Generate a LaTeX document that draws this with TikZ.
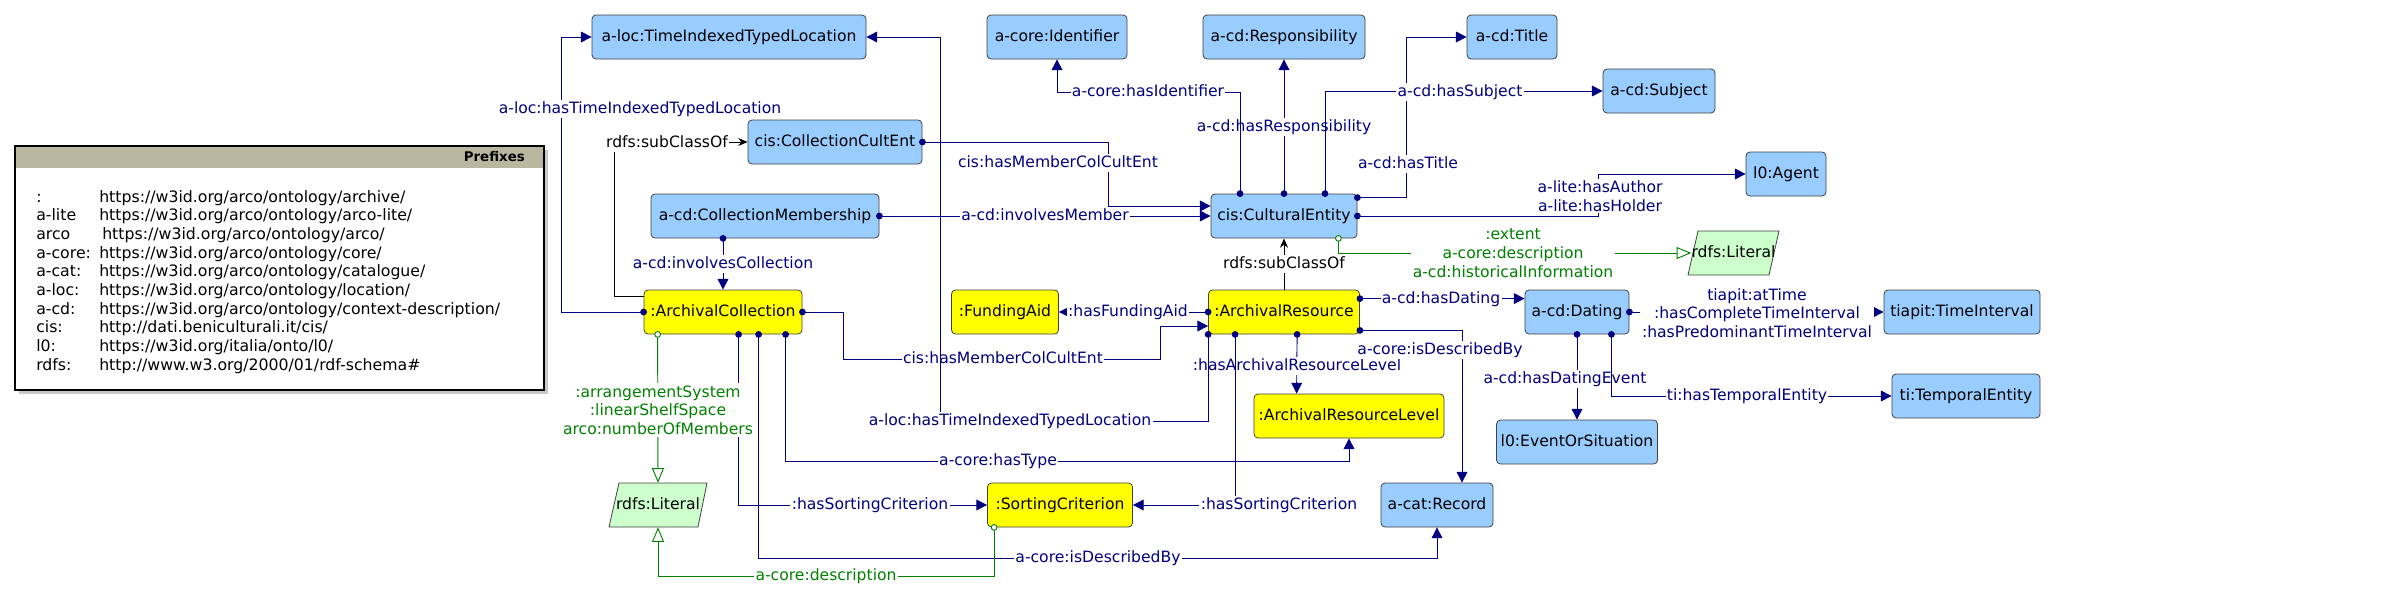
\documentclass[tikz,border=0pt]{standalone}
\usepackage{fontspec}
\setmainfont{DejaVu Sans}
\usetikzlibrary{arrows.meta,calc}
\definecolor{nodeblue}{RGB}{153,204,255}
\definecolor{nodeyellow}{RGB}{255,255,0}
\definecolor{litgreen}{RGB}{204,255,204}
\definecolor{edgeblue}{RGB}{0,0,128}
\definecolor{edgegreen}{RGB}{0,128,0}
\definecolor{prefhead}{RGB}{184,183,160}
\definecolor{shadowgray}{RGB}{200,200,200}
\begin{document}
\begin{tikzpicture}[x=0.75pt,y=-0.75pt,
  font=\fontsize{11.7}{14}\selectfont,
  box/.style={draw=black!75, line width=0.6pt, rounded corners=3pt, minimum height=33pt, inner sep=0pt, text=black, text height=8.8pt, text depth=2.6pt},
  bluebox/.style={box, fill=nodeblue},
  yelbox/.style={box, fill=nodeyellow},
  litnode/.style={inner sep=0pt, minimum height=33pt, text=black, text height=8.8pt, text depth=2.6pt},
  wd/.style={minimum width=#1*0.75pt},
  objd/.style={draw=edgeblue, line width=0.7pt, arrows={Circle[length=5pt]-Triangle[length=8pt,width=8pt]}, shorten <=-2.5pt},
  datd/.style={draw=edgegreen, line width=0.7pt, arrows={Circle[length=5pt,fill=white]-Triangle[length=11pt,width=9pt,fill=white]}, shorten <=-2.5pt},
  sub/.style={draw=black, line width=0.7pt, arrows={-Stealth[length=7pt,width=6pt]}},
  lbl/.style={fill=white, inner sep=1pt, text=edgeblue, align=center, text height=8.8pt, text depth=2.6pt},
  mlbl/.style={fill=white, inner sep=1.5pt, text=edgeblue, align=center},
  glbl/.style={mlbl, text=edgegreen},
  blbl/.style={lbl, text=black},
  pfx/.style={anchor=base west, inner sep=0pt, font=\fontsize{11.8}{14}\selectfont, text=black}
]
\useasboundingbox (0,0) rectangle (2402,603);

% ---------- Prefixes box ----------
\fill[shadowgray] (19,150) rectangle (548,394);
\draw[line width=0.8pt, fill=white] (15,146) rectangle (544,390);
\fill[prefhead] (15,146) rectangle (544,168);
\draw[line width=0.8pt] (15,146) rectangle (544,390);
\node[anchor=east, inner sep=0pt, font=\fontsize{10}{12}\selectfont\bfseries] (pfxhead) at (525,157) {Prefixes};
\node[pfx] (k1) at (36,202) {:};
\node[pfx] (v1) at (99,202) {https://w3id.org/arco/ontology/archive/};
\node[pfx] (k2) at (36,220.7) {a-lite};
\node[pfx] (v2) at (99,220.7) {https://w3id.org/arco/ontology/arco-lite/};
\node[pfx] (k3) at (36,239.4) {arco};
\node[pfx] (v3) at (102,239.4) {https://w3id.org/arco/ontology/arco/};
\node[pfx] (k4) at (36,258.1) {a-core:};
\node[pfx] (v4) at (99,258.1) {https://w3id.org/arco/ontology/core/};
\node[pfx] (k5) at (36,276.8) {a-cat:};
\node[pfx] (v5) at (99,276.8) {https://w3id.org/arco/ontology/catalogue/};
\node[pfx] (k6) at (36,295.5) {a-loc:};
\node[pfx] (v6) at (99,295.5) {https://w3id.org/arco/ontology/location/};
\node[pfx] (k7) at (36,314.2) {a-cd:};
\node[pfx] (v7) at (99,314.2) {https://w3id.org/arco/ontology/context-description/};
\node[pfx] (k8) at (36,332.9) {cis:};
\node[pfx] (v8) at (99,332.9) {http://dati.beniculturali.it/cis/};
\node[pfx] (k9) at (36,351.6) {l0:};
\node[pfx] (v9) at (99,351.6) {https://w3id.org/italia/onto/l0/};
\node[pfx] (k10) at (36,370.3) {rdfs:};
\node[pfx] (v10) at (99,370.3) {http://www.w3.org/2000/01/rdf-schema\#};

% ---------- Literal shapes ----------
\filldraw[fill=litgreen, draw=black!75, line width=0.6pt] (619,483) -- (707,483) -- (698,527) -- (609,527) -- cycle;
\filldraw[fill=litgreen, draw=black!75, line width=0.6pt] (1698,231) -- (1779,231) -- (1769,275) -- (1688,275) -- cycle;

% ---------- Nodes ----------
\node[bluebox, wd=274] (til) at (729,37) {a-loc:TimeIndexedTypedLocation};
\node[bluebox, wd=140] (ident) at (1057,37) {a-core:Identifier};
\node[bluebox, wd=162] (resp) at (1284,37) {a-cd:Responsibility};
\node[bluebox, wd=90] (title) at (1512,37) {a-cd:Title};
\node[bluebox, wd=112] (subj) at (1659,91) {a-cd:Subject};
\node[bluebox, wd=80] (agent) at (1786,174) {l0:Agent};
\node[bluebox, wd=174] (cce) at (835,142) {cis:CollectionCultEnt};
\node[bluebox, wd=228] (cm) at (765,216) {a-cd:CollectionMembership};
\node[bluebox, wd=146] (ce) at (1284,216) {cis:CulturalEntity};
\node[litnode, wd=81] (litR) at (1733.5,253) {rdfs:Literal};
\node[yelbox, wd=158] (ac) at (723,312) {:ArchivalCollection};
\node[yelbox, wd=107] (fa) at (1005,312) {:FundingAid};
\node[yelbox, wd=151] (ar) at (1284,312) {:ArchivalResource};
\node[bluebox, wd=104] (dat) at (1577,312) {a-cd:Dating};
\node[bluebox, wd=156] (ti) at (1962,312) {tiapit:TimeInterval};
\node[bluebox, wd=148] (te) at (1966,396) {ti:TemporalEntity};
\node[bluebox, wd=161] (eos) at (1577,442) {l0:EventOrSituation};
\node[yelbox, wd=190] (arl) at (1349,416) {:ArchivalResourceLevel};
\node[bluebox, wd=112] (rec) at (1437,505) {a-cat:Record};
\node[yelbox, wd=145] (sc) at (1060,505) {:SortingCriterion};
\node[litnode, wd=88] (litL) at (658,505) {rdfs:Literal};

% ---------- Edges ----------
\draw[objd] (ac.west) -| ($(til.west)+(-30,0)$) -- (til.west);
\node[lbl] (l1) at (640,109) {a-loc:hasTimeIndexedTypedLocation};

\draw[sub] ($(ac.north west)+(0,7)$) -| ($(cce.west)+(-133,0)$) -- (cce.west);
\node[blbl] (l2) at (667,143) {rdfs:subClassOf};

\draw[objd] (cce.east) -| ($(ce.west)+(-102,-10)$) -- ($(ce.west)+(0,-10)$);
\node[lbl] (l3) at (1058,163) {cis:hasMemberColCultEnt};

\draw[objd] (cm.east) -- (ce.west);
\node[lbl] (l4) at (1045,216) {a-cd:involvesMember};

\draw[objd] (ce.north) -- (resp.south);
\node[lbl] (l5) at (1284,127) {a-cd:hasResponsibility};

\draw[objd] ($(ce.north)+(-44,0)$) |- ($(ident.south)+(0,33)$) -- (ident.south);
\node[lbl] (l6) at (1148,92) {a-core:hasIdentifier};

\draw[objd] ($(ce.north east)+(0,4)$) -| ($(title.west)+(-60,0)$) -- (title.west);
\node[lbl] (l7) at (1408,164) {a-cd:hasTitle};

\draw[objd] ($(ce.north)+(41,0)$) |- (subj.west);
\node[lbl] (l8) at (1460,92) {a-cd:hasSubject};

\draw[objd] (ce.east) -| ($(agent.west)+(-147,0)$) -- (agent.west);
\node[mlbl] (l9) at (1600,196) {a-lite:hasAuthor\\a-lite:hasHolder};

\draw[datd] ($(ce.south east)+(-19,0)$) |- (litR.west);
\node[glbl] (l10) at (1513,253) {:extent\\a-core:description\\a-cd:historicalInformation};

\draw[sub] (ar.north) -- (ce.south);
\node[blbl] (l11) at (1284,264) {rdfs:subClassOf};

\draw[objd] (ar.west) -- (fa.east);
\node[lbl] (l12) at (1128,312) {:hasFundingAid};

\draw[objd] (ac.east) -- ++(41,0) -- ++(0,47) -| ($(ar.west)+(-48,14)$) -- ($(ar.west)+(0,14)$);
\node[lbl] (l13) at (1003,359) {cis:hasMemberColCultEnt};

\draw[objd] ($(ar.south west)+(89,0)$) -- ($(arl.north west)+(43,0)$);
\node[lbl] (l14) at (1297,366) {:hasArchivalResourceLevel};

\draw[objd] (ar.south west) -- ++(0,87) -| ($(til.east)+(74,0)$) -- (til.east);
\node[lbl] (l15) at (1010,421) {a-loc:hasTimeIndexedTypedLocation};

\draw[objd] ($(ar.south west)+(27,0)$) |- (sc.east);
\node[lbl] (l16) at (1279,505) {:hasSortingCriterion};

\draw[objd] ($(ar.south east)+(0,-4)$) -| ($(rec.north)+(25,0)$);
\node[lbl] (l17) at (1440,350) {a-core:isDescribedBy};

\draw[objd] ($(ar.north east)+(0,9)$) -- ($(dat.north west)+(0,9)$);
\node[lbl] (l18) at (1441,299) {a-cd:hasDating};

\draw[objd] ($(ac.south west)+(95,0)$) |- (sc.west);
\node[lbl] (l19) at (870,505) {:hasSortingCriterion};

\draw[objd] ($(ac.south west)+(115,0)$) |- ($(rec.south)+(0,31)$) -- (rec.south);
\node[lbl] (l20) at (1098,558) {a-core:isDescribedBy};

\draw[objd] ($(ac.south west)+(142,0)$) |- ($(arl.south)+(0,23)$) -- (arl.south);
\node[lbl] (l21) at (998,461) {a-core:hasType};

\draw[objd] (ac.north |- cm.south) -- (ac.north);
\node[lbl] (l22) at (723,264) {a-cd:involvesCollection};

\draw[datd] ($(ac.south west)+(14,0)$) -- (litL.north);
\node[glbl] (l23) at (658,410) {:arrangementSystem\\:linearShelfSpace\\arco:numberOfMembers};

\draw[datd] ($(sc.south west)+(7,0)$) |- ($(litL.south)+(0,49)$) -- (litL.south);
\node[lbl, text=edgegreen] (l24) at (826,576) {a-core:description};

\draw[objd] (dat.east) -- (ti.west);
\node[mlbl] (l25) at (1757,313) {tiapit:atTime\\:hasCompleteTimeInterval\\:hasPredominantTimeInterval};

\draw[objd] (dat.south) -- (eos.north);
\node[lbl] (l26) at (1565,379) {a-cd:hasDatingEvent};

\draw[objd] ($(dat.south east)+(-18,0)$) |- (te.west);
\node[lbl] (l27) at (1747,396) {ti:hasTemporalEntity};
\end{tikzpicture}
\end{document}
